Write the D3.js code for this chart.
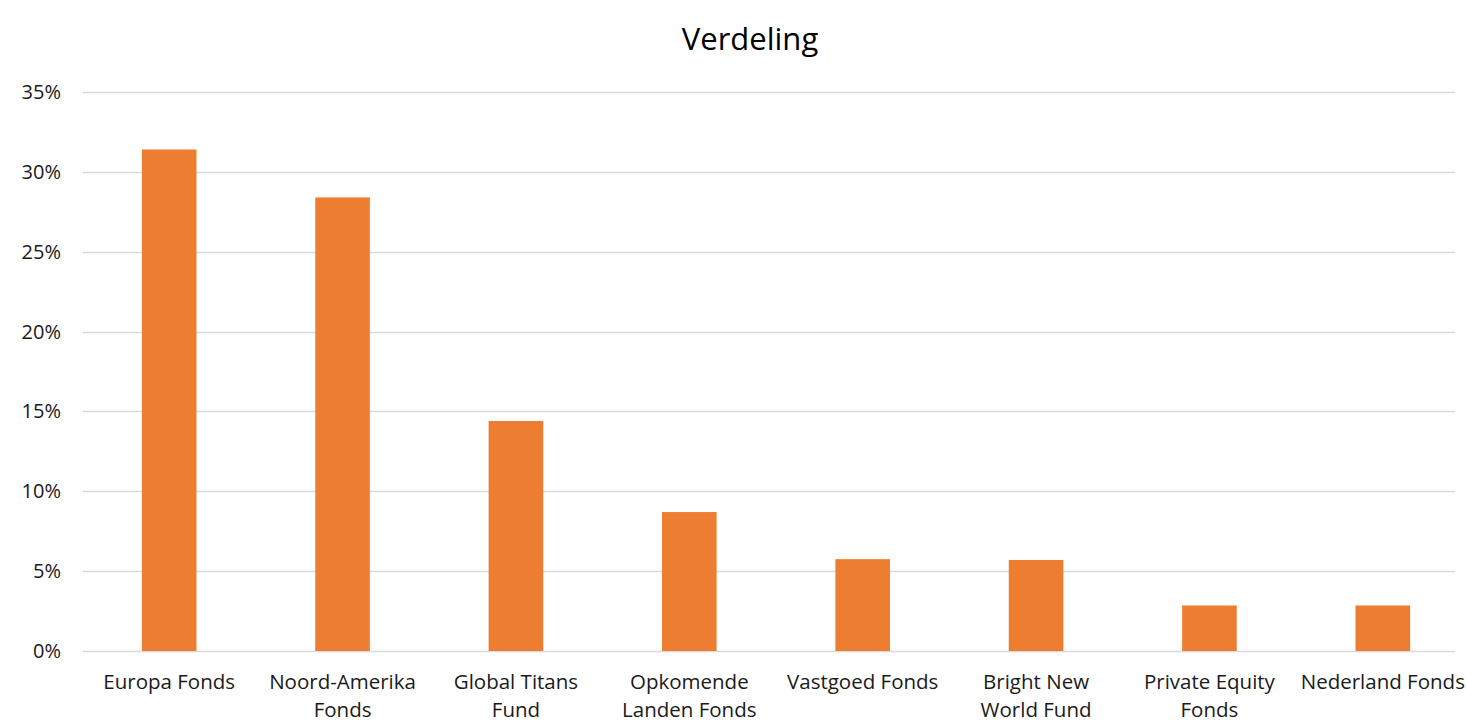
<!DOCTYPE html>
<html>
<head>
<meta charset="utf-8">
<script src="https://cdn.jsdelivr.net/npm/d3@7"></script>
<style>
body{margin:0;background:#fff;}
text{font-family:"Open Sans",sans-serif;}
</style>
</head>
<body>
<script>
var width=1466;
var height=722;
var margin={top:92,right:11,bottom:71,left:83};

var categories=["Europa Fonds","Noord-Amerika Fonds","Global Titans Fund","Opkomende Landen Fonds","Vastgoed Fonds","Bright New World Fund","Private Equity Fonds","Nederland Fonds"];
var values=[31.4,28.4,14.4,8.7,5.75,5.7,2.85,2.85];
var yTicks=[0,5,10,15,20,25,30,35];
var title="Verdeling";

var svg=d3.select("body").append("svg").attr("width",width).attr("height",height);

var x=d3.scaleBand().domain(categories)
    .range([82.5,1469.5])
    .paddingInner(0.685).paddingOuter(0.3425);
var y=d3.scaleLinear().domain([0,35]).range([height-margin.bottom,margin.top]);

// gridlines
svg.append("g").selectAll("line").data(yTicks).enter().append("line")
    .attr("x1",margin.left).attr("x2",width-margin.right)
    .attr("y1",function(d){return Math.round(y(d))+0.5;})
    .attr("y2",function(d){return Math.round(y(d))+0.5;})
    .attr("stroke","#d9d9d9").attr("stroke-width",1.3);

// y labels
svg.append("g").selectAll("text").data(yTicks).enter().append("text")
    .attr("x",61).attr("y",function(d){return y(d);})
    .attr("dy","0.35em").attr("text-anchor","end")
    .attr("font-size","20px").attr("fill","#1a1a1a")
    .text(function(d){return d+"%";});

// bars
svg.append("g").selectAll("rect").data(values).enter().append("rect")
    .attr("x",function(d,i){return x(categories[i]);})
    .attr("y",function(d){return y(d);})
    .attr("width",x.bandwidth())
    .attr("height",function(d){return y(0)-y(d);})
    .attr("fill","#ed7d31");

// x labels with wrapping
var wrapWidth=165;
var xl=svg.append("g").selectAll("text").data(categories).enter().append("text")
    .attr("x",function(d){return x(d)+x.bandwidth()/2;})
    .attr("y",689).attr("text-anchor","middle")
    .attr("font-size","20.5px").attr("fill","#1a1a1a");
xl.each(function(d){
    var t=d3.select(this);
    var words=d.split(" ");
    var line=[];
    var ts=t.append("tspan").attr("x",t.attr("x")).attr("dy",0);
    words.forEach(function(w){
        line.push(w);
        ts.text(line.join(" "));
        if(ts.node().getComputedTextLength()>wrapWidth&&line.length>1){
            line.pop();
            ts.text(line.join(" "));
            line=[w];
            ts=t.append("tspan").attr("x",t.attr("x")).attr("dy","28px").text(w);
        }
    });
});

svg.append("text").attr("x",750).attr("y",50).attr("text-anchor","middle")
    .attr("font-size","31px").attr("fill","#000").text(title);
</script>
</body>
</html>
